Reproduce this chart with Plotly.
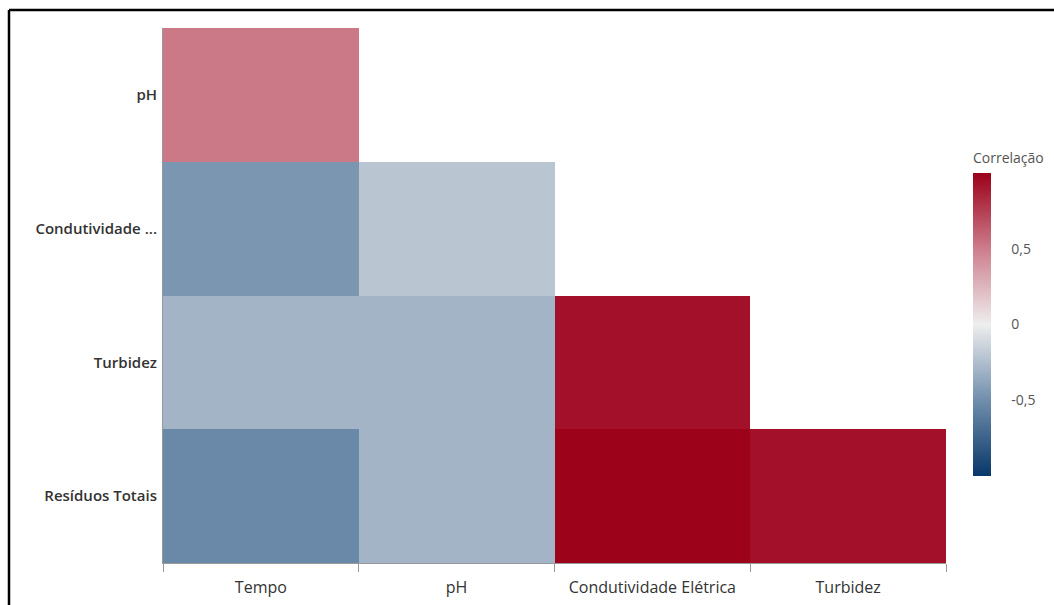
import plotly.graph_objects as go

x_labels = ["Tempo", "pH", "Condutividade Elétrica", "Turbidez"]
y_labels = ["pH", "Condutividade ...", "Turbidez", "Resíduos Totais"]

row_ph = [0.52, None, None, None]
row_cond = [-0.46, -0.21, None, None]
row_turb = [-0.30, -0.30, 0.93, None]
row_res = [-0.53, -0.30, 0.99, 0.93]

z = [row_ph, row_cond, row_turb, row_res]

colorscale = [
    [0.0, "rgb(8,55,105)"],
    [0.25, "rgb(112,142,172)"],
    [0.5, "rgb(238,238,238)"],
    [0.75, "rgb(205,125,140)"],
    [1.0, "rgb(155,0,25)"],
]

# plot area in px
L, R, T, B = 163, 946, 28, 563
W, H = 1054, 605
pw, ph = R - L, B - T

def px_x(x):
    return (x - L) / pw

def px_y(y):
    return (B - y) / ph

cb_top, cb_bot = 173, 476
title_space = 24
cb_x0, cb_x1 = 973, 991

fig = go.Figure(go.Heatmap(
    z=z, x=x_labels, y=y_labels,
    colorscale=colorscale, zmin=-1, zmax=1,
    hoverongaps=False,
    colorbar=dict(
        title=dict(text="Correlação", side="top",
                   font=dict(family="Open Sans", size=14, color="#555")),
        thickness=cb_x1 - cb_x0, thicknessmode="pixels",
        len=(cb_bot - cb_top + title_space) / ph, lenmode="fraction",
        y=px_y(cb_bot), yanchor="bottom",
        x=px_x(cb_x0), xanchor="left", xpad=0, ypad=0,
        outlinewidth=0,
        tickvals=[-0.5, 0, 0.5], ticktext=["-0,5", "0", "0,5"],
        ticks="outside", ticklen=18, tickcolor="rgba(0,0,0,0)",
        tickfont=dict(family="Open Sans", size=14, color="#555"),
    ),
))

def cb_y(v):
    return cb_bot - (v + 1) / 2 * (cb_bot - cb_top)

shapes = [
    dict(type="line", xref="paper", yref="paper",
         x0=px_x(9), x1=px_x(W + 5), y0=px_y(10), y1=px_y(10),
         line=dict(color="black", width=2.5), layer="above"),
    dict(type="line", xref="paper", yref="paper",
         x0=px_x(9), x1=px_x(9), y0=px_y(10), y1=px_y(H + 5),
         line=dict(color="black", width=2.5), layer="above"),
]
for v in (0.5, -0.5):
    shapes.append(dict(type="line", xref="paper", yref="paper",
                       x0=px_x(cb_x0), x1=px_x(cb_x1),
                       y0=px_y(cb_y(v)), y1=px_y(cb_y(v)),
                       line=dict(color="rgba(255,255,255,0.8)", width=1.5),
                       layer="above"))

fig.update_layout(
    width=W, height=H,
    margin=dict(l=L, r=W - R, t=T, b=H - B, autoexpand=False),
    paper_bgcolor="white", plot_bgcolor="white",
    xaxis=dict(
        type="category", showgrid=False, zeroline=False, automargin=False,
        showline=True, linecolor="#999", linewidth=1,
        ticks="outside", tickson="boundaries", ticklen=8, tickcolor="#999",
        ticklabelstandoff=10,
        tickfont=dict(family="Open Sans", size=16, color="#333"),
    ),
    yaxis=dict(
        type="category", autorange="reversed", showgrid=False, zeroline=False,
        automargin=False,
        showline=True, linecolor="#999", linewidth=1, ticks="",
        ticklabelstandoff=2,
        tickfont=dict(family="Open Sans", size=15, color="#333", weight=600),
    ),
    shapes=shapes,
)

fig.write_html("out.html")
